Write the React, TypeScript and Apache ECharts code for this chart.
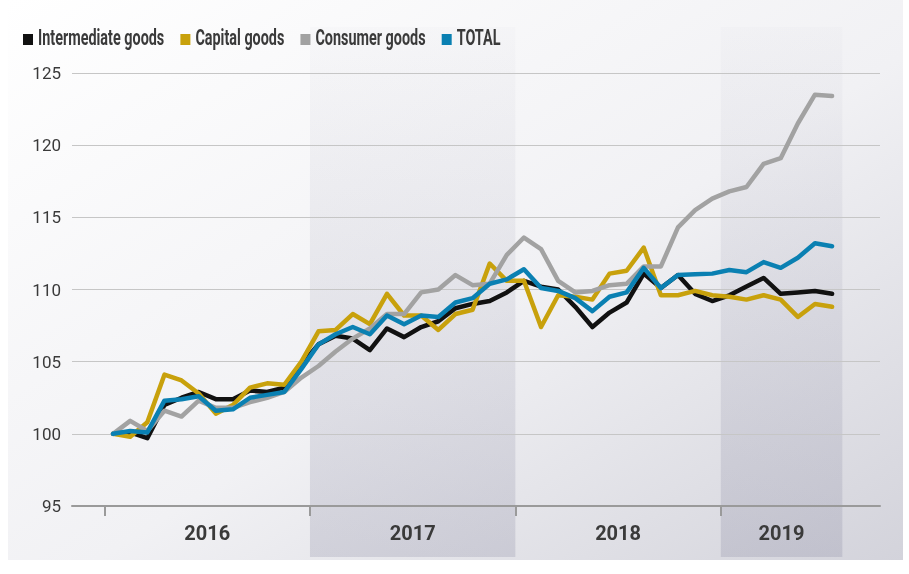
import React, { useEffect, useRef } from 'react';
import * as echarts from 'echarts';

const YEARS = ['2016', '2017', '2018', '2019'];
const SERIES_NAMES = ['Intermediate goods', 'Capital goods', 'Consumer goods', 'TOTAL'];
const COLORS = ['#111111', '#c8a10c', '#a2a2a2', '#0a80b2'];

// Monthly index values, Jan 2016 .. Jul 2019
const INTERMEDIATE = [
  100.0, 100.1, 99.7, 102.0, 102.5, 102.9, 102.4, 102.4, 103.0, 102.9, 103.2, 104.8,
  106.2, 106.8, 106.6, 105.8, 107.3, 106.7, 107.4, 107.8, 108.7, 109.0, 109.2, 109.8,
  110.6, 110.2, 110.0, 108.8, 107.4, 108.4, 109.1, 111.1, 110.1, 111.0, 109.7, 109.2,
  109.6, 110.2, 110.8, 109.7, 109.8, 109.9, 109.7,
];
const CAPITAL = [
  100.0, 99.8, 100.8, 104.1, 103.7, 102.8, 101.4, 102.0, 103.2, 103.5, 103.4, 105.0,
  107.1, 107.2, 108.3, 107.6, 109.7, 108.2, 108.2, 107.2, 108.3, 108.6, 111.8, 110.6,
  110.6, 107.4, 109.6, 109.5, 109.3, 111.1, 111.3, 112.9, 109.6, 109.6, 109.9, 109.6,
  109.5, 109.3, 109.6, 109.3, 108.1, 109.0, 108.8,
];
const CONSUMER = [
  100.0, 100.9, 100.2, 101.6, 101.2, 102.3, 101.8, 101.8, 102.2, 102.5, 102.9, 103.9,
  104.7, 105.7, 106.6, 107.3, 108.3, 108.3, 109.8, 110.0, 111.0, 110.3, 110.4, 112.4,
  113.6, 112.8, 110.6, 109.8, 109.9, 110.3, 110.4, 111.6, 111.6, 114.3, 115.5, 116.3,
  116.8, 117.1, 118.7, 119.1, 121.5, 123.5, 123.4,
];
const TOTAL = [
  100.0, 100.2, 100.1, 102.3, 102.4, 102.6, 101.6, 101.7, 102.5, 102.7, 102.9, 104.5,
  106.2, 106.9, 107.4, 106.9, 108.2, 107.6, 108.2, 108.1, 109.1, 109.4, 110.4, 110.7,
  111.4, 110.1, 109.9, 109.4, 108.5, 109.5, 109.8, 111.5, 110.1, 111.0, 111.05, 111.1,
  111.35, 111.2, 111.9, 111.5, 112.2, 113.2, 113.0,
];

const Y_MIN = 95;
const Y_MAX = 125;
const Y_STEP = 5;

export default function App() {
  const ref = useRef<HTMLDivElement>(null);

  useEffect(() => {
    if (!ref.current) return;
    const chart = echarts.init(ref.current, undefined, { renderer: 'svg' });

    const n = TOTAL.length;
    const lastEnd = n + 0.1;
    const yearStart = YEARS.map((_, k) => 12 * k);
    const yearEnd = YEARS.map((_, k) => (k < YEARS.length - 1 ? 12 * (k + 1) : lastEnd));
    const labelVals = YEARS.map((_, k) => (yearStart[k] + yearEnd[k]) / 2);
    const bands = YEARS.map((_, k) => [yearStart[k], yearEnd[k], Y_MIN]).filter((_, k) => k % 2 === 1);

    // legend drawn as condensed text
    const legendFont = 'bold 22px Roboto';
    const sx = 0.655;
    const cv = document.createElement('canvas').getContext('2d');
    let cx = 23;
    const legendEls: any[] = [];
    SERIES_NAMES.forEach((name, s) => {
      let w = name.length * 11;
      if (cv) {
        cv.font = legendFont;
        w = cv.measureText(name).width;
      }
      legendEls.push({
        type: 'rect',
        shape: { x: cx, y: 34, width: 10, height: 11 },
        style: { fill: COLORS[s] },
        z: 10,
      });
      legendEls.push({
        type: 'text',
        x: cx + 15,
        y: 38,
        scaleX: sx,
        style: {
          text: name,
          font: legendFont,
          fill: '#3a3a3a',
          align: 'left',
          verticalAlign: 'middle',
        },
        z: 10,
      });
      cx += 15 + w * sx + 16;
    });

    const lineData = [INTERMEDIATE, CAPITAL, CONSUMER, TOTAL];

    const option: any = {
      animation: false,
      graphic: [
        {
          type: 'rect',
          z: -100,
          silent: true,
          shape: { x: 8, y: 0, width: 895, height: 560 },
          style: {
            fill: new echarts.graphic.LinearGradient(0, 0, 1, 1, [
              { offset: 0, color: '#ffffff' },
              { offset: 0.55, color: '#f1f1f4' },
              { offset: 1, color: '#d3d3db' },
            ]),
          },
        },
        ...legendEls,
      ],
      grid: { left: 72, right: 29, top: 73, bottom: 68, containLabel: false },
      xAxis: {
        type: 'value',
        min: -1.9,
        max: 45.3,
        axisLine: { show: true, onZero: false, lineStyle: { color: '#9a9a9a', width: 2 } },
        axisTick: {
          show: true,
          customValues: [0, 12, 24, 36],
          length: 10,
          lineStyle: { color: '#9a9a9a', width: 2 },
        },
        axisLabel: {
          customValues: labelVals,
          formatter: (v: number) => {
            let best = 0;
            labelVals.forEach((lv, k) => {
              if (Math.abs(lv - v) < Math.abs(labelVals[best] - v)) best = k;
            });
            return YEARS[best];
          },
          fontFamily: 'Roboto',
          fontWeight: 'bold',
          fontSize: 20,
          color: '#3a3a3a',
          margin: 17,
        },
        splitLine: { show: false },
      },
      yAxis: {
        type: 'value',
        min: Y_MIN,
        max: Y_MAX,
        interval: Y_STEP,
        axisLine: { show: false },
        axisTick: { show: false },
        axisLabel: { fontFamily: 'Roboto', fontSize: 17, color: '#3a3a3a', margin: 11 },
        splitLine: { lineStyle: { color: '#c6c6c6', width: 1 } },
      },
      series: [
        {
          type: 'custom',
          coordinateSystem: 'cartesian2d',
          data: bands,
          encode: { x: [0, 1], y: 2 },
          clip: false,
          silent: true,
          z: -1,
          renderItem: (params: any, api: any) => {
            const x0 = api.coord([api.value(0), Y_MIN])[0];
            const x1 = api.coord([api.value(1), Y_MIN])[0];
            return {
              type: 'rect',
              shape: { x: x0, y: 27, width: x1 - x0, height: 530 },
              style: {
                fill: new echarts.graphic.LinearGradient(0, 0, 0, 1, [
                  { offset: 0, color: 'rgba(110,110,140,0.02)' },
                  { offset: 1, color: 'rgba(110,110,140,0.2)' },
                ]),
              },
            };
          },
        },
        ...lineData.map((arr, s) => ({
          type: 'line',
          name: SERIES_NAMES[s],
          data: arr.map((v, i) => [i + 0.5, v]),
          showSymbol: false,
          symbol: 'none',
          itemStyle: { color: COLORS[s] },
          lineStyle: { color: COLORS[s], width: 4.5, cap: 'round', join: 'round' },
        })),
      ],
    };

    chart.setOption(option);
    return () => chart.dispose();
  }, []);

  return (
    <div
      ref={ref}
      style={{ position: 'fixed', left: 0, top: 0, width: 909, height: 574 }}
    />
  );
}
